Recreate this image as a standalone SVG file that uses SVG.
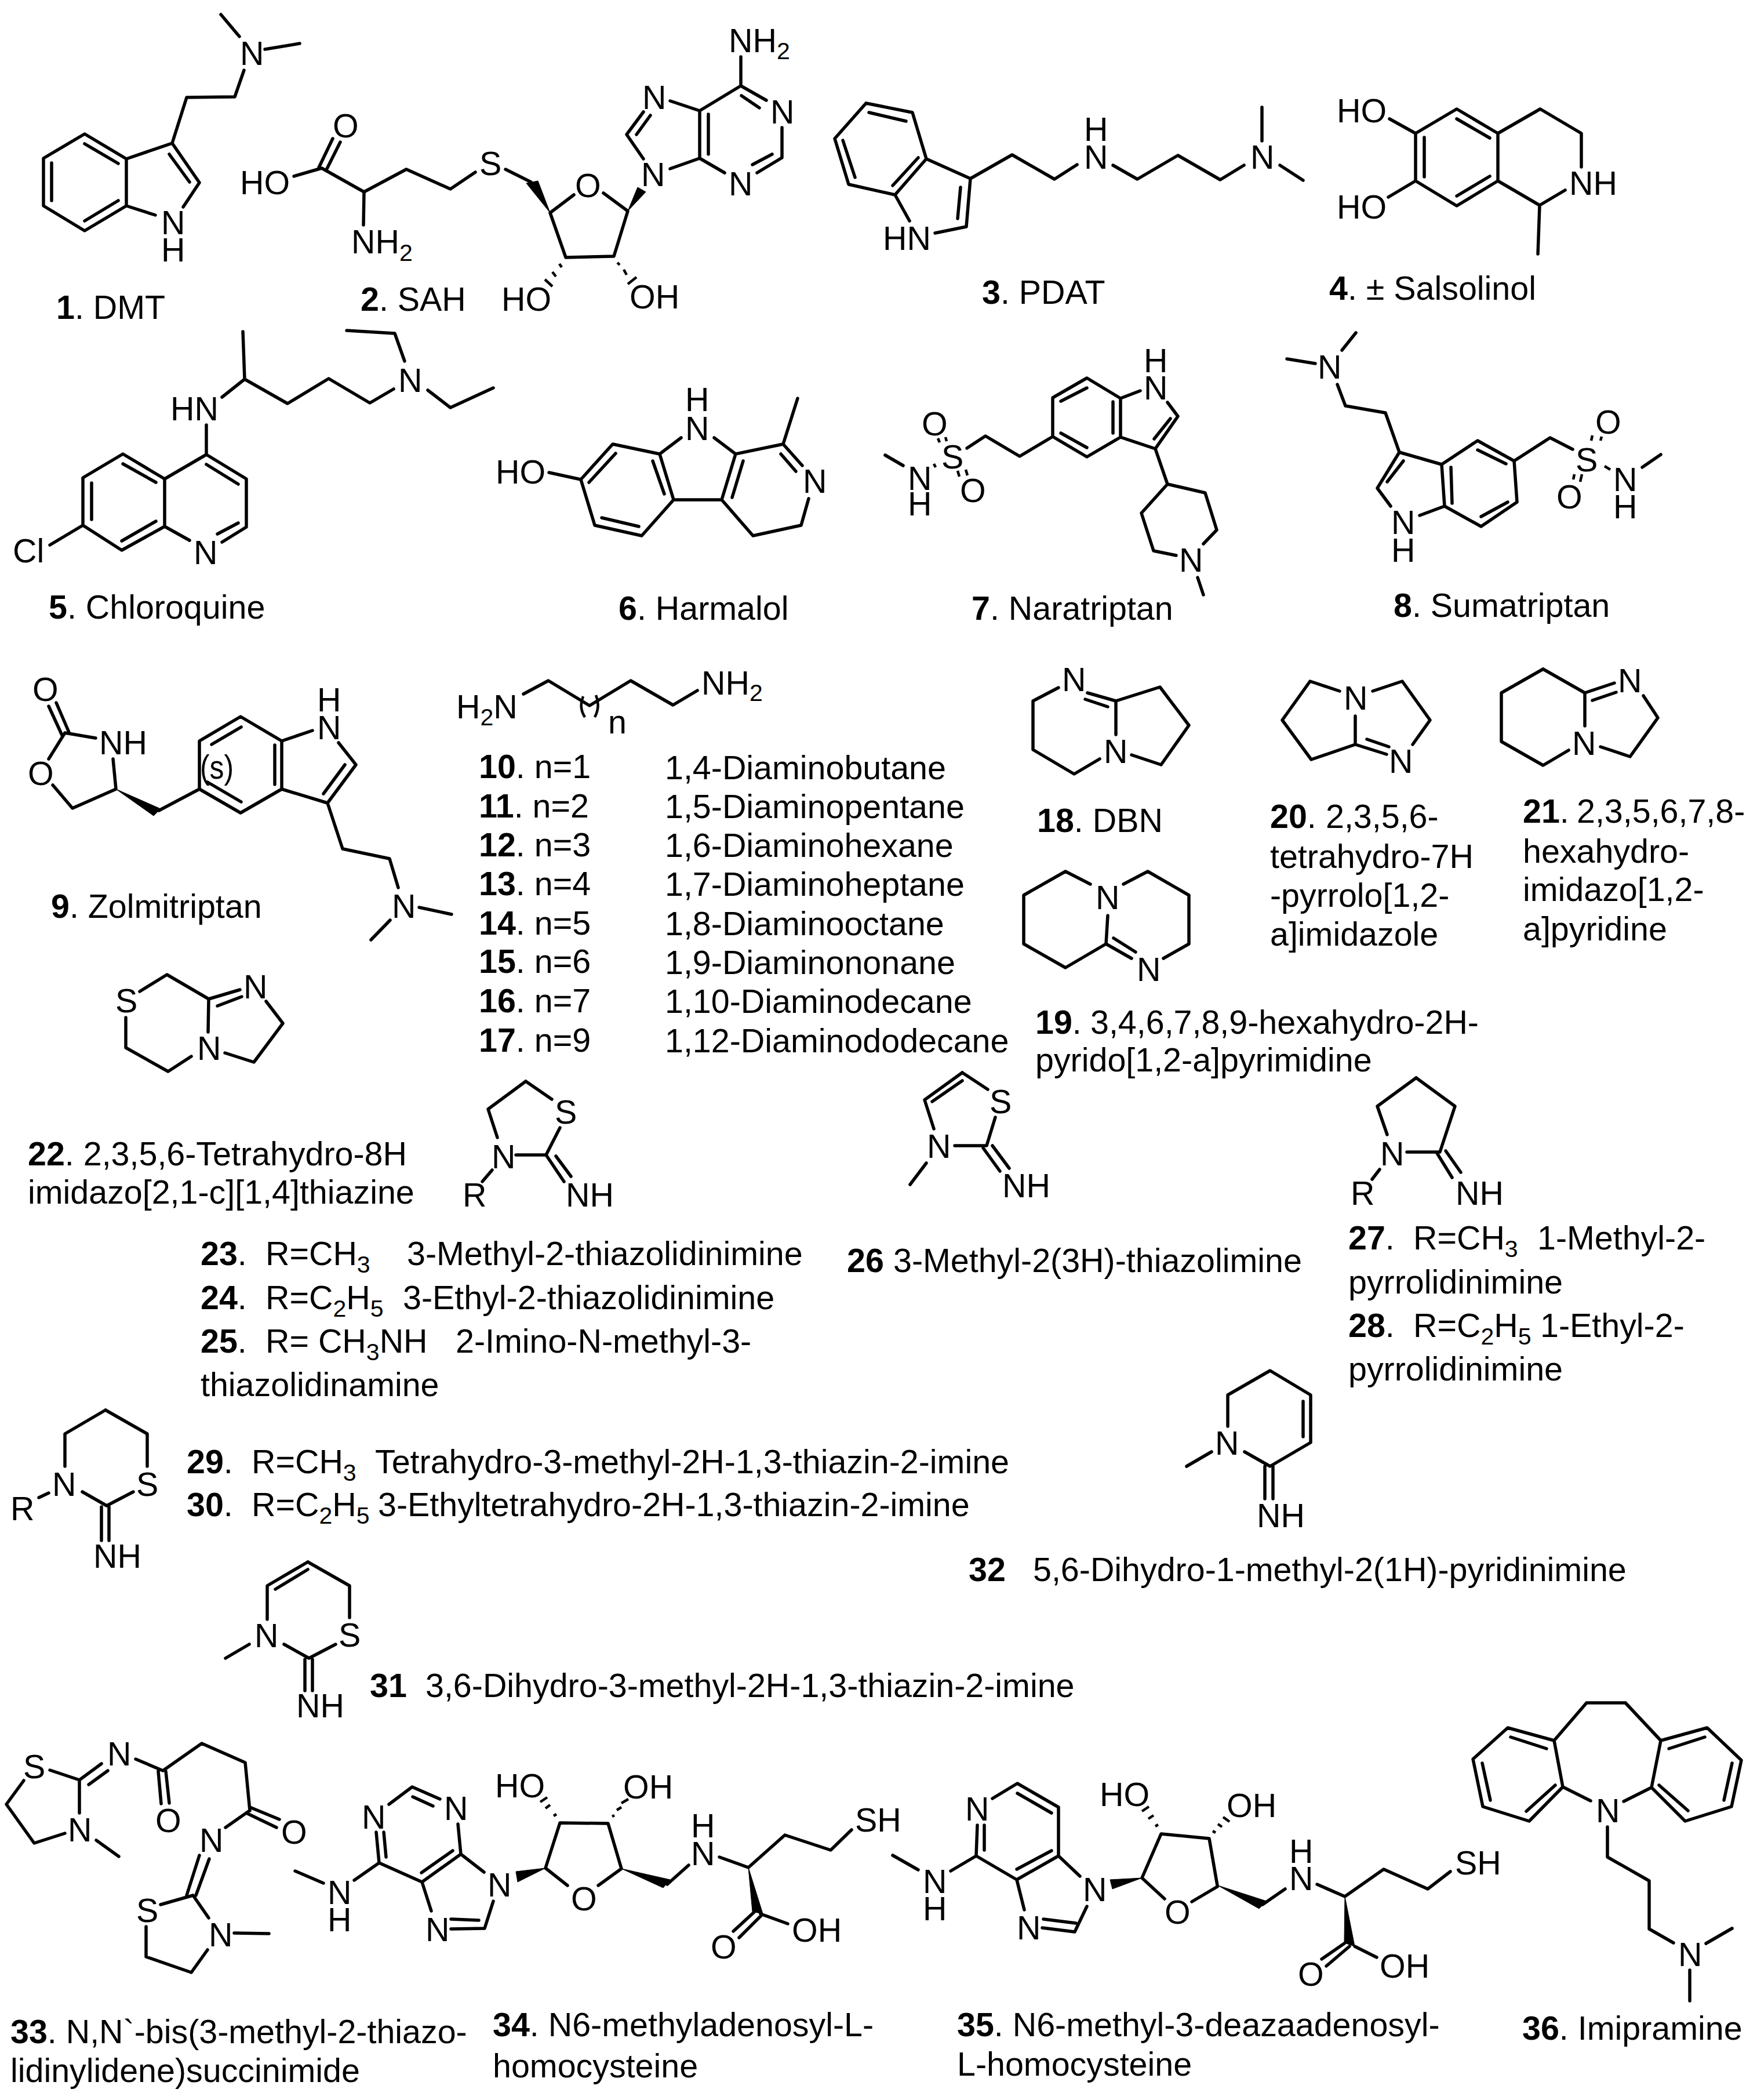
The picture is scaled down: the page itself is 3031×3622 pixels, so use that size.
<svg xmlns="http://www.w3.org/2000/svg" width="3031" height="3622" viewBox="0 0 3031 3622">
<style>
text{font-family:"Liberation Sans",Arial,sans-serif;font-size:57.4px;fill:#000}
.n{font-weight:bold}
.s{font-size:41px}
path{fill:none;stroke:#000;stroke-width:5.5;stroke-linecap:round;stroke-linejoin:round}
path.h{stroke-width:4.5;stroke-linecap:butt}
polygon{fill:#000;stroke:#000;stroke-width:1}
</style>
<rect width="3031" height="3622" fill="#fff"/>
<g id="compound-1">
<path d="M381 25L413 63M457 85L517 75M421 121L405 167L322 168L297 247L218 274L146 231L75 273L75 355L146 398L218 355L218 274M218 355L268 371M316 357L344 315L297 247M292 266L327 314M146 248L204 282M89 281L89 346M146 381L204 346"/>
<text x="414" y="112">N</text><text x="278" y="404">N</text><text x="278" y="451">H</text>
<text x="97" y="550"><tspan class="n">1</tspan>. DMT</text>
</g>
<g id="compound-2">
<path d="M507 304L555 290L628 331L701 292L777 326L820 297M550 289L574 239M564 291L587 245M628 331L627 388M872 292L916 314M949 367L990 336M1041 333L1083 364L1059 442L976 444L949 367M1278 98L1278 148L1207 191L1207 273L1250 298M1278 148L1322 173M1279 165L1310 186M1349 220L1349 272L1306 298M1332 266L1298 284M1222 197L1222 266M1207 191L1156 174M1110 193L1081 232L1110 274M1122 199L1098 232M1156 291L1207 273"/>
<path class="h" d="M965 455L969 461M953 469L959 477M940 482L953 494M1065 453L1069 457M1076 465L1081 474M1083 490L1098 478"/>
<polygon points="949,367 908,316 928,312"/><polygon points="1083,364 1100,323 1114,331"/>
<text x="414" y="335">HO</text><text x="574" y="237">O</text><text x="606" y="437">NH<tspan class="s" dy="13">2</tspan></text><text x="827" y="302">S</text><text x="992" y="340">O</text><text x="1106" y="321">N</text><text x="865" y="536">HO</text><text x="1086" y="532">OH</text>
<text x="1108" y="188">N</text><text x="1329" y="213">N</text><text x="1257" y="337">N</text><text x="1257" y="90">NH<tspan class="s" dy="12">2</tspan></text>
<text x="622" y="536"><tspan class="n">2</tspan>. SAH</text>
</g>
<g id="compound-3">
<path d="M1494 178L1574 194L1598 274L1544 336L1464 318L1440 239L1494 178M1499 194L1563 209M1454 242L1475 306M1584 272L1540 320M1598 274L1674 308L1667 391L1613 402M1544 336L1569 381M1657 323L1652 377M1674 308L1746 267L1819 309L1858 284M1920 285L1962 309L2032 268L2105 310L2146 285M2177 243L2177 185M2208 285L2248 311"/>
<text x="1523" y="431">HN</text><text x="1870" y="291">N</text><text x="1870" y="243">H</text><text x="2157" y="291">N</text>
<text x="1694" y="524"><tspan class="n">3</tspan>. PDAT</text>
</g>
<g id="compound-4">
<path d="M2397 205L2442 230L2513 188L2584 230L2584 312L2513 355L2442 312L2442 230M2395 340L2442 312M2457 237L2457 305M2513 205L2570 238M2570 304L2513 338M2584 230L2657 188L2728 230L2728 288M2700 328L2656 354L2584 312M2656 354L2653 438"/>
<text x="2306" y="211">HO</text><text x="2306" y="377">HO</text><text x="2707" y="336">NH</text>
<text x="2293" y="517"><tspan class="n">4</tspan>. ± Salsolinol</text>
</g>
<g id="compound-5">
<path d="M419 572L422 654L496 696L567 653L638 695L679 671M698 623L681 575L598 570M738 673L777 703L851 669M383 685L422 654M356 733L356 784L284 826L284 908L210 949L143 906L143 824L212 783L284 826M212 800L269 832M158 833L158 896M210 933L269 899M356 784L425 826L425 909L383 935M356 801L411 835M411 902L375 921M327 932L284 908M86 940L143 906"/>
<text x="687" y="676">N</text><text x="294" y="725">HN</text><text x="334" y="973">N</text><text x="22" y="970">Cl</text>
<text x="84" y="1067"><tspan class="n">5</tspan>. Chloroquine</text>
</g>
<g id="compound-6">
<path d="M947 815L1002 827L1057 766L1138 783L1162 862L1107 924L1026 906L1002 827M1016 832L1062 782M1126 795L1146 852M1038 893L1102 908M1138 783L1175 755M1232 755L1269 783L1245 862L1162 862M1282 795L1263 858M1269 783L1351 766L1376 687M1351 766L1384 803M1347 783L1373 813M1395 860L1382 906L1299 924L1245 862"/>
<text x="855" y="834">HO</text><text x="1182" y="759">N</text><text x="1182" y="709">H</text><text x="1385" y="850">N</text>
<text x="1067" y="1069"><tspan class="n">6</tspan>. Harmalol</text>
</g>
<g id="compound-7">
<path d="M1527 785L1558 803M1668 773L1700 752L1759 787L1816 753L1816 686L1875 652L1933 687L1933 754L1875 788L1816 753M1830 692L1875 669M1920 693L1920 747M1830 747L1875 772M1933 687L1967 674M2014 694L2032 718L1993 774L1933 754M2019 722L1991 757M1993 774L2014 835L2079 850L2099 914L2076 938M2029 958L1990 950L1969 885L2014 835M2066 996L2076 1026"/>
<path class="h" d="M1618 756L1621 763M1631 754L1633 761M1652 812L1655 822M1666 810L1669 820M1611 800L1614 806"/>
<text x="1566" y="845">N</text><text x="1566" y="889">H</text><text x="1624" y="808">S</text><text x="1590" y="751">O</text><text x="1656" y="866">O</text><text x="1973" y="689">N</text><text x="1973" y="642">H</text><text x="2034" y="986">N</text>
<text x="1676" y="1069"><tspan class="n">7</tspan>. Naratriptan</text>
</g>
<g id="compound-8">
<path d="M2339 574L2315 604M2220 619L2269 627M2307 663L2321 700L2390 712L2414 780L2487 801L2492 873L2449 889M2399 873L2376 842L2414 780M2421 795L2393 831M2487 801L2549 760L2612 795L2617 866L2555 908L2492 873M2549 776L2598 800M2503 806L2505 868M2555 891L2601 866M2612 795L2674 755L2713 775M2833 806L2865 784"/>
<path class="h" d="M2747 751L2745 760M2763 753L2761 760M2716 818L2714 827M2729 818L2726 831M2768 804L2778 810"/>
<text x="2273" y="653">N</text><text x="2400" y="921">N</text><text x="2400" y="969">H</text><text x="2718" y="813">S</text><text x="2752" y="748">O</text><text x="2685" y="877">O</text><text x="2783" y="847">N</text><text x="2783" y="894">H</text>
<text x="2404" y="1064"><tspan class="n">8</tspan>. Sumatriptan</text>
</g>
<g id="compound-9">
<path d="M84 1218L107 1268M97 1212L119 1263M165 1273L112 1264L84 1309M91 1354L125 1394L200 1361L195 1309M274 1398L344 1361L344 1278L415 1236L486 1278L486 1361L415 1402L344 1361M365 1284L416 1254M474 1285L474 1353M358 1349L416 1383M486 1278L539 1260M584 1281L614 1319L565 1385L486 1361M595 1319L558 1369M565 1385L591 1464L672 1481L687 1531M723 1565L779 1577M673 1587L640 1621"/>
<polygon points="200,1361 265,1407 277,1395"/>
<text x="56" y="1209">O</text><text x="171" y="1301">NH</text><text x="48" y="1354">O</text><text x="345" y="1343" textLength="58" lengthAdjust="spacingAndGlyphs">(s)</text><text x="547" y="1275">N</text><text x="547" y="1227">H</text><text x="676" y="1583">N</text>
<text x="88" y="1583"><tspan class="n">9</tspan>. Zolmitriptan</text>
</g>
<g id="compounds-10-17">
<path d="M903 1197L946 1174L1017 1217L1088 1174L1161 1216L1203 1191"/>
<path class="h" d="M1006 1201Q998 1220 1009 1237M1028 1199Q1036 1218 1026 1237"/>
<text x="787" y="1239">H<tspan class="s" dy="12">2</tspan><tspan dy="-12">N</tspan></text><text x="1210" y="1198">NH<tspan class="s" dy="11">2</tspan></text><text x="1049" y="1265">n</text>
<text x="826" y="1342"><tspan class="n">10</tspan>. n=1</text><text x="826" y="1410"><tspan class="n">11</tspan>. n=2</text><text x="826" y="1477"><tspan class="n">12</tspan>. n=3</text><text x="826" y="1544"><tspan class="n">13</tspan>. n=4</text><text x="826" y="1612"><tspan class="n">14</tspan>. n=5</text><text x="826" y="1678"><tspan class="n">15</tspan>. n=6</text><text x="826" y="1746"><tspan class="n">16</tspan>. n=7</text><text x="826" y="1814"><tspan class="n">17</tspan>. n=9</text>
<text x="1147" y="1344">1,4-Diaminobutane</text><text x="1147" y="1411">1,5-Diaminopentane</text><text x="1147" y="1478">1,6-Diaminohexane</text><text x="1147" y="1545">1,7-Diaminoheptane</text><text x="1147" y="1613">1,8-Diaminooctane</text><text x="1147" y="1680">1,9-Diaminononane</text><text x="1147" y="1747">1,10-Diaminodecane</text><text x="1147" y="1815">1,12-Diaminododecane</text>
</g>
<g id="compound-18">
<path d="M1826 1186L1782 1209L1782 1293L1853 1335L1897 1309M1925 1209L1925 1267M1876 1195L1925 1209M1872 1206L1911 1219M1925 1209L2001 1185L2051 1251L2003 1319L1952 1302"/>
<text x="1832" y="1192">N</text><text x="1904" y="1316">N</text>
<text x="1789" y="1435"><tspan class="n">18</tspan>. DBN</text>
</g>
<g id="compound-19">
<path d="M1881 1525L1838 1503L1766 1544L1766 1628L1838 1669L1908 1628M1938 1525L1980 1503L2051 1544L2051 1628L2007 1653M1911 1579L1908 1628L1952 1653M1921 1618L1959 1642"/>
<text x="1890" y="1568">N</text><text x="1961" y="1692">N</text>
<text x="1786" y="1783"><tspan class="n">19</tspan>. <tspan x="1881">3,4,6,7,8,9-hexahydro-2H-</tspan></text><text x="1786" y="1848">pyrido[1,2-a]pyrimidine</text>
</g>
<g id="compound-20">
<path d="M2311 1192L2260 1175L2212 1242L2262 1310L2338 1284L2338 1235M2368 1192L2419 1175L2467 1242L2437 1284M2338 1284L2392 1301M2358 1275L2396 1288"/>
<text x="2318" y="1224">N</text><text x="2396" y="1333">N</text>
<text x="2191" y="1428"><tspan class="n">20</tspan>. <tspan x="2287">2,3,5,6-</tspan></text><text x="2191" y="1497">tetrahydro-7H</text><text x="2191" y="1564">-pyrrolo[1,2-</text><text x="2191" y="1631">a]imidazole</text>
</g>
<g id="compound-21">
<path d="M2662 1154L2734 1195L2734 1252M2662 1154L2590 1195L2590 1279L2662 1320L2706 1294M2734 1195L2785 1178M2747 1208L2788 1194M2835 1200L2860 1238L2812 1305L2761 1288"/>
<text x="2712" y="1302">N</text><text x="2791" y="1194">N</text>
<text x="2627" y="1419"><tspan class="n">21</tspan>. <tspan x="2720">2,3,5,6,7,8-</tspan></text><text x="2627" y="1488">hexahydro-</text><text x="2627" y="1554">imidazo[1,2-</text><text x="2627" y="1622">a]pyridine</text>
</g>
<g id="compound-22">
<path d="M241 1710L288 1681L360 1723L414 1707M375 1735L417 1719M459 1727L488 1765L438 1832L388 1816M360 1723L359 1780M330 1822L290 1848L217 1807L217 1755"/>
<text x="199" y="1746">S</text><text x="420" y="1722">N</text><text x="340" y="1828">N</text>
<text x="48" y="2010"><tspan class="n">22</tspan>. 2,3,5,6-Tetrahydro-8H</text><text x="48" y="2076">imidazo[2,1-c][1,4]thiazine</text>
</g>
<g id="compounds-23-25">
<path d="M907 1865L952 1896M907 1865L842 1913L858 1962M890 1992L942 1992L966 1945M942 1992L973 2038M959 1994L985 2029M849 2018L832 2038"/>
<text x="957" y="1938">S</text><text x="848" y="2015">N</text><text x="976" y="2081">NH</text><text x="798" y="2081">R</text>
<text x="346" y="2182"><tspan class="n">23</tspan>.<tspan x="458">R=CH</tspan><tspan class="s" dy="13">3</tspan><tspan x="702" dy="-13">3-Methyl-2-thiazolidinimine</tspan></text>
<text x="346" y="2258"><tspan class="n">24</tspan>.<tspan x="458">R=C</tspan><tspan class="s" dy="13">2</tspan><tspan dy="-13">H</tspan><tspan class="s" dy="13">5</tspan><tspan x="695" dy="-13">3-Ethyl-2-thiazolidinimine</tspan></text>
<text x="346" y="2333"><tspan class="n">25</tspan>.<tspan x="458">R= CH</tspan><tspan class="s" dy="13">3</tspan><tspan dy="-13">NH</tspan><tspan x="786">2-Imino-N-methyl-3-</tspan></text>
<text x="346" y="2408">thiazolidinamine</text>
</g>
<g id="compound-26">
<path d="M1660 1850L1704 1879M1660 1850L1595 1897L1611 1947M1660 1864L1608 1900M1647 1976L1702 1976L1717 1927M1696 1980L1725 2020M1712 1976L1741 2015M1598 2006L1570 2043"/>
<text x="1707" y="1920">S</text><text x="1599" y="1997">N</text><text x="1729" y="2065">NH</text>
<text x="1461" y="2194"><tspan class="n">26</tspan> <tspan x="1541">3-Methyl-2(3H)-thiazolimine</tspan></text>
</g>
<g id="compounds-27-28">
<path d="M2443 1859L2510 1908L2484 1987L2427 1987M2443 1859L2376 1908L2393 1957M2479 1989L2505 2031M2494 1985L2520 2022M2380 2017L2367 2034"/>
<text x="2381" y="2010">N</text><text x="2511" y="2078">NH</text><text x="2330" y="2078">R</text>
<text x="2326" y="2155"><tspan class="n">27</tspan>.<tspan x="2438">R=CH</tspan><tspan class="s" dy="13">3</tspan><tspan x="2652" dy="-13">1-Methyl-2-</tspan></text>
<text x="2326" y="2231">pyrrolidinimine</text>
<text x="2326" y="2306"><tspan class="n">28</tspan>.<tspan x="2438">R=C</tspan><tspan class="s" dy="13">2</tspan><tspan dy="-13">H</tspan><tspan class="s" dy="13">5</tspan><tspan x="2657" dy="-13">1-Ethyl-2-</tspan></text>
<text x="2326" y="2381">pyrrolidinimine</text>
</g>
<g id="compounds-29-30">
<path d="M182 2432L254 2473L254 2529M182 2432L112 2473L112 2529M67 2583L84 2575M142 2573L184 2597L230 2573M175 2599L175 2657M188 2599L188 2657"/>
<text x="235" y="2580">S</text><text x="90" y="2580">N</text><text x="18" y="2622">R</text><text x="161" y="2704">NH</text>
<text x="322" y="2541"><tspan class="n">29</tspan>.<tspan x="434">R=CH</tspan><tspan class="s" dy="13">3</tspan><tspan x="647" dy="-13">Tetrahydro-3-methyl-2H-1,3-thiazin-2-imine</tspan></text>
<text x="322" y="2615"><tspan class="n">30</tspan>.<tspan x="434">R=C</tspan><tspan class="s" dy="13">2</tspan><tspan dy="-13">H</tspan><tspan class="s" dy="13">5</tspan><tspan x="652" dy="-13">3-Ethyltetrahydro-2H-1,3-thiazin-2-imine</tspan></text>
</g>
<g id="compound-31">
<path d="M531 2694L603 2735L603 2790M531 2694L461 2735L461 2793M531 2707L475 2741M430 2836L389 2860M490 2836L533 2860L579 2836M526 2862L526 2916M539 2862L539 2916"/>
<text x="584" y="2840">S</text><text x="439" y="2841">N</text><text x="511" y="2962">NH</text>
<text x="638" y="2927"><tspan class="n">31</tspan><tspan x="734">3,6-Dihydro-3-methyl-2H-1,3-thiazin-2-imine</tspan></text>
</g>
<g id="compound-32">
<path d="M2147 2504L2191 2529L2261 2488L2261 2406L2191 2364L2118 2406L2118 2460M2248 2417L2248 2478M2090 2504L2047 2529M2182 2529L2182 2585M2196 2529L2196 2585"/>
<text x="2096" y="2509">N</text><text x="2168" y="2634">NH</text>
<text x="1671" y="2727"><tspan class="n">32</tspan><tspan x="1782">5,6-Dihydro-1-methyl-2(1H)-pyridinimine</tspan></text>
</g>
<g id="compound-33">
<path d="M86 3053L137 3070L137 3127M41 3071L11 3112L59 3179L112 3162M166 3174L205 3202M137 3070L175 3042M153 3078L186 3054M234 3034L281 3054L348 3007L423 3040L431 3123M273 3055L278 3111M286 3055L292 3110M431 3117L482 3138M427 3128L477 3152M429 3124L389 3152M344 3200L322 3269M361 3206L338 3269M277 3285L333 3269L360 3308M404 3334L464 3335M358 3363L330 3402L252 3375L252 3323"/>
<text x="40" y="3067">S</text><text x="185" y="3045">N</text><text x="117" y="3176">N</text><text x="268" y="3160">O</text><text x="485" y="3180">O</text><text x="344" y="3194">N</text><text x="235" y="3315">S</text><text x="360" y="3357">N</text>
<text x="18" y="3524"><tspan class="n">33</tspan>. N,N`-bis(3-methyl-2-thiazo-</text><text x="18" y="3591">lidinylidene)succinimide</text>
</g>
<g id="compound-34">
<path d="M509 3227L558 3248M611 3243L654 3213L649 3160M662 3160L666 3203M671 3112L711 3082L759 3103M712 3099L747 3115M790 3146L795 3198L728 3246L654 3213M781 3192L727 3230M728 3246L744 3296M778 3310L826 3312M778 3327L836 3326L851 3279M795 3198L835 3229M941 3222L966 3144L1049 3145L1072 3223M941 3222L979 3252M1032 3252L1072 3223M1151 3250L1188 3217M1241 3203L1291 3221L1354 3165L1433 3191L1469 3156M1302 3297L1265 3331M1314 3303L1275 3342M1312 3301L1359 3318"/>
<path class="h" d="M955 3132L960 3129M941 3119L949 3113M932 3108L944 3100M1056 3133L1060 3131M1064 3122L1072 3117M1072 3110L1084 3103"/>
<polygon points="941,3222 890,3228 893,3246"/><polygon points="1072,3223 1144,3256 1156,3242"/><polygon points="1291,3221 1298,3297 1316,3301"/>
<text x="565" y="3284">N</text><text x="565" y="3331">H</text><text x="624" y="3154">N</text><text x="766" y="3139">N</text><text x="734" y="3348">N</text><text x="841" y="3271">N</text><text x="985" y="3295">O</text><text x="854" y="3100">HO</text><text x="1075" y="3102">OH</text><text x="1192" y="3217">N</text><text x="1192" y="3169">H</text><text x="1475" y="3159">SH</text><text x="1226" y="3378">O</text><text x="1366" y="3349">OH</text>
<text x="850" y="3512"><tspan class="n">34</tspan>. N6-methyladenosyl-L-</text><text x="850" y="3583">homocysteine</text>
</g>
<g id="compound-35">
<path d="M1540 3200L1584 3225M1640 3227L1684 3201L1686 3148M1698 3148L1698 3191M1712 3102L1755 3076L1826 3117L1826 3201L1754 3242L1684 3201M1755 3093L1814 3127M1814 3192L1754 3224M1826 3201L1863 3236M1754 3242L1767 3294M1800 3310L1856 3317M1798 3325L1854 3332L1875 3288M1970 3239L2003 3163L2086 3171L2100 3252M1970 3239L2009 3275M2056 3280L2100 3254M2178 3285L2217 3258M2272 3250L2320 3271L2387 3224L2463 3258L2502 3228M2319 3352L2280 3379M2328 3357L2288 3391M2337 3357L2375 3376"/>
<path class="h" d="M1993 3150L1998 3147M1981 3137L1990 3131M1970 3124L1982 3116M2092 3158L2097 3161M2101 3146L2108 3151M2110 3134L2121 3142"/>
<polygon points="1970,3239 1915,3242 1919,3258"/><polygon points="2101,3252 2172,3292 2185,3279"/><polygon points="2320,3271 2319,3351 2337,3357"/>
<text x="1592" y="3265">N</text><text x="1592" y="3312">H</text><text x="1665" y="3140">N</text><text x="1868" y="3279">N</text><text x="1754" y="3345">N</text><text x="1897" y="3115">HO</text><text x="2009" y="3318">O</text><text x="2116" y="3134">OH</text><text x="2224" y="3260">N</text><text x="2224" y="3213">H</text><text x="2510" y="3233">SH</text><text x="2239" y="3425">O</text><text x="2380" y="3411">OH</text>
<text x="1651" y="3512"><tspan class="n">35</tspan>. N6-methyl-3-deazaadenosyl-</text><text x="1651" y="3580">L-homocysteine</text>
</g>
<g id="compound-36">
<path d="M2737 2937L2804 2937M2737 2937L2681 3002L2601 2980L2541 3034L2558 3116L2638 3141L2696 3082L2681 3002M2606 2996L2668 3016M2557 3041L2571 3105M2633 3124L2683 3079M2804 2937L2865 3002L2945 2980L3004 3036L2987 3116L2907 3141L2849 3083L2865 3002M2879 3016L2941 2996M2988 3041L2974 3105M2912 3123L2862 3079M2696 3082L2744 3106M2849 3083L2801 3107M2773 3151L2773 3203L2845 3244L2845 3327L2887 3351M2943 3352L2988 3326M2915 3398L2915 3451"/>
<text x="2753" y="3143">N</text><text x="2895" y="3391">N</text>
<text x="2626" y="3518"><tspan class="n">36</tspan>. Imipramine</text>
</g>
</svg>
